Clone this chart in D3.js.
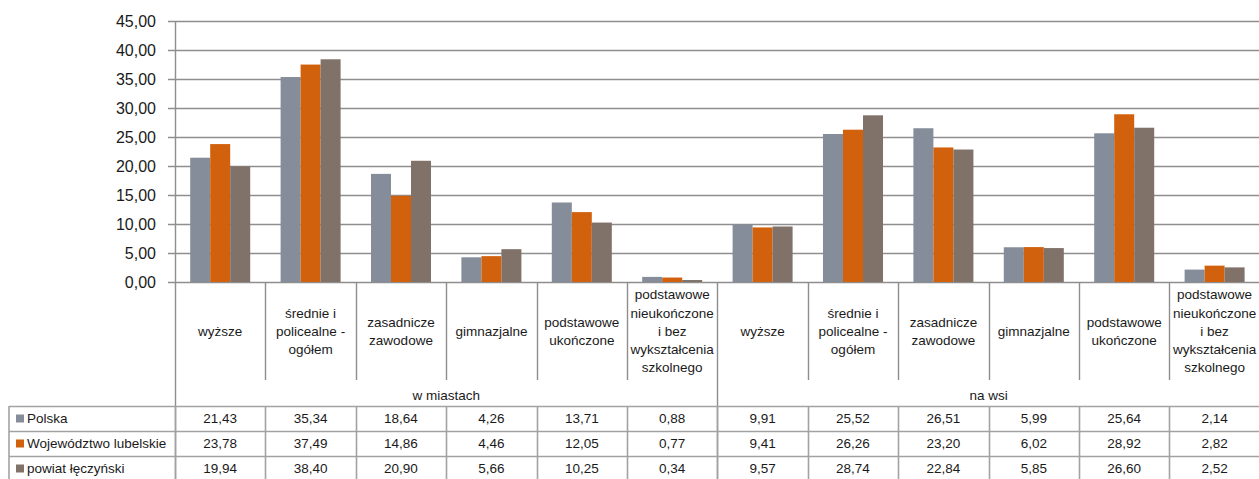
<!DOCTYPE html>
<html>
<head>
<meta charset="utf-8">
<script src="https://cdn.jsdelivr.net/npm/d3@7"></script>
<style>
  html, body { margin: 0; padding: 0; background: #fff; }
  svg { display: block; }
  text { font-family: "Liberation Sans", Arial, sans-serif; fill: #1a1a1a; }
</style>
</head>
<body>
<svg id="chart" width="1259" height="479"></svg>
<script>
// ---- data ----
const categoryLabels = [
  ["wyższe"],
  ["średnie i", "policealne -", "ogółem"],
  ["zasadnicze", "zawodowe"],
  ["gimnazjalne"],
  ["podstawowe", "ukończone"],
  ["podstawowe", "nieukończone", "i bez", "wykształcenia", "szkolnego"],
  ["wyższe"],
  ["średnie i", "policealne -", "ogółem"],
  ["zasadnicze", "zawodowe"],
  ["gimnazjalne"],
  ["podstawowe", "ukończone"],
  ["podstawowe", "nieukończone", "i bez", "wykształcenia", "szkolnego"]
];
const groups = ["w miastach", "na wsi"];
const groupSize = 6;
const seriesNames = ["Polska", "Województwo lubelskie", "powiat łęczyński"];
const polska    = [21.43, 35.34, 18.64, 4.26, 13.71, 0.88, 9.91, 25.52, 26.51, 5.99, 25.64, 2.14];
const lubelskie = [23.78, 37.49, 14.86, 4.46, 12.05, 0.77, 9.41, 26.26, 23.20, 6.02, 28.92, 2.82];
const powiat    = [19.94, 38.40, 20.90, 5.66, 10.25, 0.34, 9.57, 28.74, 22.84, 5.85, 26.60, 2.52];
const seriesValues = [polska, lubelskie, powiat];
const yTicks = [0, 5, 10, 15, 20, 25, 30, 35, 40, 45];
const colors = ["#858d9a", "#d2610d", "#807169"];

// ---- layout ----
const svg = d3.select("#chart");
const left = 175, step = 90.4;
const n = categoryLabels.length;
const y0 = 282, yTop = 21;
const labelBottom = 380, groupRowBottom = 406, rowH = 25;
const tableLeft = 9;
const gridColor = "#8e8e8e", tableColor = "#a2a2a2";
const fmt = v => d3.format(".2f")(v).replace(".", ",");

const x = d3.scaleBand().domain(d3.range(n)).range([left, left + n * step]).padding(0);
const xs = d3.scaleBand().domain(d3.range(seriesNames.length)).range([0, x.bandwidth()])
  .paddingInner(0).paddingOuter(0.76);
const y = d3.scaleLinear().domain([0, 45]).range([y0, yTop]);
const right = left + n * step;

// gridlines
svg.append("g").selectAll("line").data(yTicks).join("line")
  .attr("x1", left - 7).attr("x2", right)
  .attr("y1", d => Math.round(y(d)) + 0.5).attr("y2", d => Math.round(y(d)) + 0.5)
  .attr("stroke", gridColor).attr("stroke-width", 1.4);

// y labels
const yAxis = d3.axisLeft(y).tickValues(yTicks).tickFormat(fmt).tickSize(0).tickPadding(19);
const ya = svg.append("g").attr("transform", `translate(${left},0)`).call(yAxis);
ya.select(".domain").remove();
ya.selectAll("text").attr("font-size", 16).attr("font-family", "Liberation Sans, Arial, sans-serif").attr("fill", "#1a1a1a");

// bars
seriesValues.forEach((vals, si) => {
  svg.append("g").selectAll("rect").data(vals).join("rect")
    .attr("x", (d, i) => x(i) + xs(si))
    .attr("width", xs.bandwidth())
    .attr("y", d => y(d))
    .attr("height", d => y0 - y(d))
    .attr("fill", colors[si]);
});

// y axis line
svg.append("line").attr("x1", left + 0.5).attr("x2", left + 0.5).attr("y1", yTop).attr("y2", 482)
  .attr("stroke", gridColor).attr("stroke-width", 1.4);

// category separators in label area
const seps = d3.range(1, n + 1);
svg.append("g").selectAll("line").data(seps).join("line")
  .attr("x1", d => Math.round(left + d * step) + 0.5).attr("x2", d => Math.round(left + d * step) + 0.5)
  .attr("y1", y0).attr("y2", d => (d % groupSize === 0) ? 482 : labelBottom)
  .attr("stroke", gridColor).attr("stroke-width", 1.4);

// category labels
const lineH = 18.2;
const catG = svg.append("g").selectAll("text").data(categoryLabels).join("text")
  .attr("text-anchor", "middle").attr("font-size", 13.5)
  .attr("transform", (d, i) => `translate(${x(i) + x.bandwidth() / 2},0)`);
catG.each(function(lines) {
  const t = d3.select(this);
  const startY = 331 - (lines.length - 1) * lineH / 2;
  lines.forEach((l, k) => {
    t.append("tspan").attr("x", 0).attr("y", startY + k * lineH).attr("dy", "0.35em").text(l);
  });
});

// group labels
svg.append("g").selectAll("text").data(groups).join("text")
  .attr("x", (d, gi) => left + (gi * groupSize + groupSize / 2) * step)
  .attr("y", 395).attr("dy", "0.35em").attr("text-anchor", "middle")
  .attr("font-size", 13.5).text(d => d);

// table horizontal lines
const rowYs = d3.range(seriesNames.length + 1).map(k => groupRowBottom + k * rowH);
svg.append("g").selectAll("line").data(rowYs).join("line")
  .attr("x1", tableLeft).attr("x2", right)
  .attr("y1", d => d + 0.5).attr("y2", d => d + 0.5)
  .attr("stroke", tableColor).attr("stroke-width", 1.6);

// table vertical lines
const tv = [tableLeft].concat(d3.range(0, n + 1).map(d => Math.round(left + d * step) + 0.5));
svg.append("g").selectAll("line").data(tv).join("line")
  .attr("x1", d => d).attr("x2", d => d)
  .attr("y1", groupRowBottom).attr("y2", groupRowBottom + seriesNames.length * rowH + 2)
  .attr("stroke", tableColor).attr("stroke-width", 1.6);

// legend keys & names
seriesNames.forEach((name, si) => {
  const cy = groupRowBottom + si * rowH + rowH / 2;
  svg.append("rect").attr("x", 16).attr("y", cy - 4).attr("width", 8).attr("height", 8).attr("fill", colors[si]);
  svg.append("text").attr("x", 27).attr("y", cy).attr("dy", "0.35em")
    .attr("font-size", 13.5).text(name);
  svg.append("g").selectAll("text").data(seriesValues[si]).join("text")
    .attr("x", (d, i) => x(i) + x.bandwidth() / 2).attr("y", cy).attr("dy", "0.35em")
    .attr("text-anchor", "middle").attr("font-size", 13.5).text(d => fmt(d));
});
</script>
</body>
</html>
